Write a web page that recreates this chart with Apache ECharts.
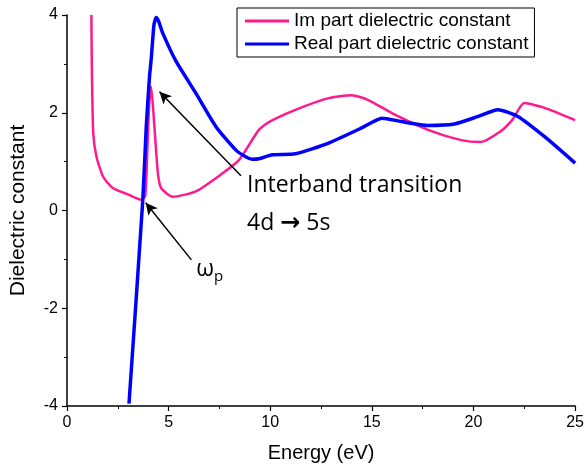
<!DOCTYPE html>
<html><head><meta charset="utf-8">
<script src="https://cdn.jsdelivr.net/npm/echarts@6/dist/echarts.min.js"></script>
<style>html,body{margin:0;padding:0;background:#fff}#c{width:587px;height:470px}</style>
</head><body><div id="c"></div>
<script>
// Im part dielectric constant
const imX = [1.2,1.22,1.29,1.45,1.78,2.25,3.0,3.65,3.85,3.95,4.05,4.14,4.3,4.47,4.63,5.2,6.34,7.65,8.46,9.44,9.93,11.24,12.87,14.0,14.82,16.13,17.76,19.4,20.35,21.3,21.9,22.5,23.5,25];
const imY = [4.0,3.0,1.59,1.1,0.69,0.46,0.33,0.22,0.3,1.2,2.2,2.53,1.72,0.77,0.46,0.28,0.39,0.76,1.03,1.65,1.81,2.06,2.30,2.36,2.26,1.96,1.65,1.44,1.40,1.61,1.85,2.2,2.1,1.85];
// Real part dielectric constant
const reX = [3.05,3.73,3.9,4.06,4.14,4.28,4.39,4.5,4.71,5.37,6.34,7.32,8.3,8.79,9.11,9.44,10.1,11.24,12.87,14.5,15.5,16.45,17.76,19.06,20.2,21.2,22.2,23.5,25];
const reY = [-3.95,0.22,1.72,2.74,3.08,3.8,3.95,3.88,3.63,3.05,2.40,1.72,1.24,1.10,1.05,1.06,1.14,1.16,1.38,1.69,1.89,1.82,1.74,1.77,1.92,2.06,1.92,1.51,0.97];
const xTicks = [0,5,10,15,20,25];
const yTicks = [-4,-2,0,2,4];
const seriesNames = ['Im part dielectric constant','Real part dielectric constant'];
const arrows = [[[8.56,0.71],[4.55,2.43]],[[6.12,-1.01],[3.87,0.16]]];

const pair = (xs, ys) => xs.map((x,i)=>[x, ys[i]]);
const chart = echarts.init(document.getElementById('c'));
const axisCommon = {
  axisLine:{show:true,onZero:false,lineStyle:{color:'#000',width:1.5}},
  axisTick:{show:true,inside:false,length:5,lineStyle:{color:'#000',width:1.2}},
  minorTick:{show:true,splitNumber:2,length:3,lineStyle:{color:'#000',width:1}},
  splitLine:{show:false},
  nameTextStyle:{color:'#000',fontFamily:'Liberation Sans',fontSize:20}
};
const lbl = {color:'#000',fontFamily:'Liberation Sans',fontSize:16,margin:9};
const annText = {fontFamily:'Open Sans',fontSize:23,color:'#000',lineHeight:38};
chart.setOption({
  animation:false,
  grid:{left:67,right:9,top:15,bottom:64,containLabel:false},
  legend:{
    orient:'vertical', left:237, top:8, data:seriesNames,
    icon:'rect', borderColor:'#000', borderWidth:1, padding:[3,6,3,8], itemGap:3,
    itemWidth:44, itemHeight:3,
    textStyle:{color:'#000',fontFamily:'Liberation Sans',fontSize:19,lineHeight:20}
  },
  xAxis:Object.assign({type:'value',min:0,max:25,interval:5,name:'Energy (eV)',nameLocation:'middle',nameGap:37},axisCommon,
    {axisLabel:Object.assign({},lbl,{formatter:v=>xTicks.includes(v)?String(v):''})}),
  yAxis:Object.assign({type:'value',min:-4,max:4,interval:2,name:'Dielectric constant',nameLocation:'middle',nameGap:38},axisCommon,
    {nameTextStyle:{color:'#000',fontFamily:'Liberation Sans',fontSize:21},
     axisLabel:Object.assign({},lbl,{formatter:v=>yTicks.includes(v)?String(v):''})}),
  series:[
    {name:seriesNames[0],type:'line',data:pair(imX,imY),symbol:'none',smooth:0.2,clip:true,
     lineStyle:{color:'#ff1a8c',width:2.5},itemStyle:{color:'#ff1a8c'},
     markLine:{silent:true,symbol:['none','arrow'],symbolSize:[9,12],
       lineStyle:{color:'#000',width:1.5,type:'solid'},label:{show:false},
       data:arrows.map(a=>[{coord:a[0]},{coord:a[1]}])}},
    {name:seriesNames[1],type:'line',data:pair(reX,reY),symbol:'none',smooth:0.2,clip:true,
     lineStyle:{color:'#0000ff',width:3.5},itemStyle:{color:'#0000ff'},
     markPoint:{silent:true,symbol:'circle',symbolSize:0,
       data:[
        {coord:[8.86,0.115],label:{show:true,position:[0,0],align:'left',verticalAlign:'middle',
          formatter:'{t|Interband transition}\n{t|4d }{a|\u2192}{t| 5s}',
          rich:{t:annText,a:{fontFamily:'DejaVu Sans',fontWeight:'bold',fontSize:24,color:'#000',lineHeight:38}}}},
        {coord:[6.36,-1.21],label:{show:true,position:[0,0],align:'left',verticalAlign:'middle',
          formatter:'{w|\u03c9}{p|p}',rich:{w:{fontFamily:'Open Sans',fontSize:23,color:'#000',lineHeight:30},
          p:{fontFamily:'Open Sans',fontSize:15,color:'#000',padding:[14,0,0,0],lineHeight:30}}}}
       ]}}
  ]
});
</script></body></html>
